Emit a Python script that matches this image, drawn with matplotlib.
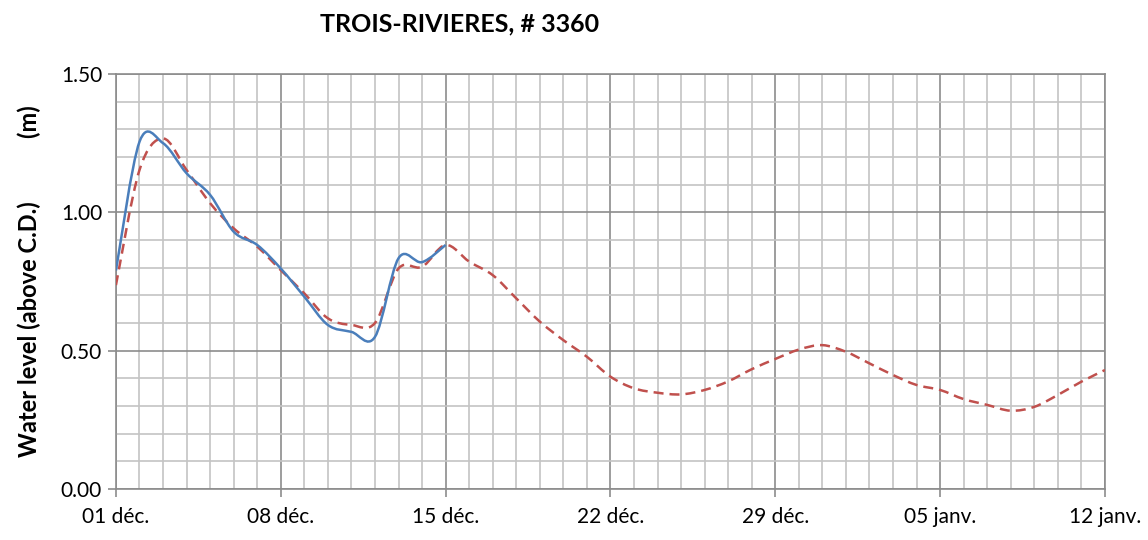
import matplotlib
matplotlib.use("Agg")
import matplotlib.pyplot as plt
import matplotlib.dates as mdates
from matplotlib.path import Path
from matplotlib.patches import PathPatch
from matplotlib.ticker import FixedLocator, MultipleLocator, FuncFormatter
import numpy as np
import pandas as pd

plt.rcParams['font.family'] = ['Lato', 'DejaVu Sans']

START = "2012-12-01"
END = "2013-01-12"

# observed water level, daily from 01 déc.
observed = [0.79, 1.255, 1.25, 1.141, 1.063, 0.93, 0.882, 0.797, 0.695,
            0.593, 0.568, 0.55, 0.834, 0.82, 0.882]
# predicted water level, daily from 01 déc.
predicted = [0.737, 1.153, 1.267, 1.153, 1.033, 0.942, 0.876, 0.791, 0.707,
             0.617, 0.593, 0.600, 0.797, 0.803, 0.882, 0.822, 0.773, 0.689,
             0.605, 0.538, 0.478, 0.406, 0.364, 0.348, 0.342, 0.358, 0.389,
             0.433, 0.470, 0.504, 0.520, 0.496, 0.454, 0.412, 0.376, 0.358,
             0.325, 0.304, 0.283, 0.297, 0.340, 0.388, 0.430]

months_fr = ["janv.", "févr.", "mars", "avr.", "mai", "juin", "juil.",
             "août", "sept.", "oct.", "nov.", "déc."]

TITLE = "TROIS-RIVIERES, # 3360"
YLABEL = "Water level (above C.D.)           (m)"


def smooth_path(x, y):
    # Excel-style smoothed line: cubic Bezier through every point
    x = np.asarray(x, float)
    y = np.asarray(y, float)
    pts = np.column_stack([x, y])
    n = len(pts)
    verts = [pts[0]]
    codes = [Path.MOVETO]
    for i in range(n - 1):
        p0 = pts[i - 1] if i > 0 else pts[i]
        p1 = pts[i]
        p2 = pts[i + 1]
        p3 = pts[i + 2] if i + 2 < n else pts[i + 1]
        c1 = p1 + (p2 - p0) / 6
        c2 = p2 - (p3 - p1) / 6
        verts += [c1, c2, p2]
        codes += [Path.CURVE4] * 3
    return Path(verts, codes)


days = pd.date_range(START, END, freq="D")
x_obs = mdates.date2num(days[:len(observed)].to_pydatetime())
x_pred = mdates.date2num(days[:len(predicted)].to_pydatetime())

fig = plt.figure(figsize=(11.48, 5.4), dpi=100)
ax = fig.add_axes([0.101, 0.0944, 0.8615, 0.7686])

ax.add_patch(PathPatch(smooth_path(x_pred, predicted), fill=False,
                       edgecolor="#c0504d", lw=1.8, linestyle=(0, (4, 2.4)),
                       zorder=3))
ax.add_patch(PathPatch(smooth_path(x_obs, observed), fill=False,
                       edgecolor="#4a7ebb", lw=1.8, zorder=4))

x0 = mdates.date2num(days[0].to_pydatetime())
x1 = mdates.date2num(days[-1].to_pydatetime())
ax.set_xlim(x0, x1)
ax.set_ylim(0, 1.5)

all_days = mdates.date2num(days.to_pydatetime())
ax.xaxis.set_major_locator(FixedLocator(all_days[::7]))
ax.xaxis.set_minor_locator(FixedLocator(all_days))


def fr_date(v, pos):
    d = mdates.num2date(v)
    return f"{d.day:02d} {months_fr[d.month - 1]}"


ax.xaxis.set_major_formatter(FuncFormatter(fr_date))
ax.yaxis.set_major_locator(MultipleLocator(0.5))
ax.yaxis.set_minor_locator(MultipleLocator(0.1))
ax.yaxis.set_major_formatter(FuncFormatter(lambda v, p: f"{v:.2f}"))

ax.grid(which="minor", color="#c4c4c4", lw=1.2, zorder=0)
ax.grid(which="major", color="#8c8c8c", lw=1.2, zorder=1)
ax.set_axisbelow(True)
for s in ax.spines.values():
    s.set_color("#8c8c8c")
    s.set_linewidth(1.2)

ax.tick_params(which="major", length=6, width=1.2, color="#8c8c8c",
               labelsize=15, pad=4, labelcolor="black")
ax.tick_params(axis="x", which="major", pad=7)
ax.tick_params(which="minor", length=0)

ax.set_ylabel(YLABEL, fontsize=17, fontweight="bold", labelpad=14)
fig.text(0.40, 0.955, TITLE, fontsize=18, fontweight="bold", ha="center",
         va="center")

fig.savefig("out.png", dpi=100)
